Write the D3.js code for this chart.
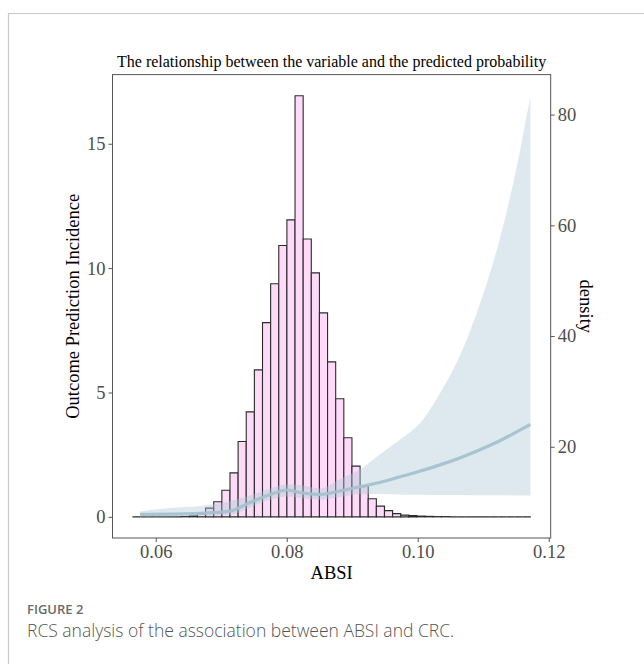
<!DOCTYPE html>
<html>
<head>
<meta charset="utf-8">
<script src="https://cdn.jsdelivr.net/npm/d3@7"></script>
<style>
  html, body { margin: 0; padding: 0; background: #fff; }
  svg { display: block; }
</style>
</head>
<body>
<svg id="chart" width="644" height="664"></svg>
<script>
// ---------------- data ----------------
const titleText = "The relationship between the variable and the predicted probability";
const xLabel = "ABSI";
const yLeftLabel = "Outcome Prediction Incidence";
const yRightLabel = "density";
const captionHead = "FIGURE 2";
const captionText = "RCS analysis of the association between ABSI and CRC.";

const xTicks = [0.06, 0.08, 0.10, 0.12];
const yLeftTicks = [0, 5, 10, 15];
const yRightTicks = [20, 40, 60, 80];

// histogram: 49 bins starting at binStart with width binWidth (ABSI units)
const binStart = 0.05644;
const binWidth = 0.0012414;
const binHeights = [
  0, 0, 0, 0, 0, 0, 0.01, 0.04, 0.12, 0.35,
  0.61, 1.07, 1.77, 3.03, 4.22, 5.91, 7.81, 9.37, 10.91, 11.94,
  16.93, 11.17, 9.81, 8.20, 6.23, 4.75, 3.18, 2.04, 1.22, 0.73,
  0.43, 0.25, 0.13, 0.07, 0.05, 0.03, 0.02, 0.01, 0.01, 0,
  0, 0, 0, 0, 0, 0, 0, 0, 0
];

// RCS curve: ABSI, estimate, lower CI, upper CI
const curveX     = [0.0576, 0.0622, 0.0668, 0.0713, 0.0744, 0.0775, 0.0800, 0.0820, 0.0851, 0.0881, 0.0912, 0.0942, 0.0973, 0.1004, 0.1034, 0.1065, 0.1095, 0.1126, 0.1149, 0.1172];
const curveEst   = [0.10, 0.11, 0.14, 0.23, 0.58, 0.90, 1.08, 0.98, 0.90, 1.04, 1.21, 1.38, 1.61, 1.84, 2.09, 2.38, 2.70, 3.07, 3.39, 3.72];
const curveLower = [0.01, 0.02, 0.04, 0.08, 0.38, 0.70, 0.82, 0.76, 0.70, 0.80, 0.92, 0.92, 0.90, 0.89, 0.88, 0.88, 0.87, 0.87, 0.86, 0.86];
const curveUpper = [0.22, 0.36, 0.44, 0.63, 0.86, 1.14, 1.30, 1.28, 1.14, 1.51, 1.91, 2.51, 3.11, 3.78, 4.97, 6.52, 8.57, 11.24, 13.8, 16.9];

// secondary (density) axis relation: density = densA + densB * leftValue
const densA = 7.34, densB = 4.493;

// ---------------- layout ----------------
const svg = d3.select("#chart");
const P = { left: 112.5, right: 550.7, top: 74.6, bottom: 538 };
const xDomain = [0.0534, 0.1203];
const yDomain = [-0.85, 17.78];

const x = d3.scaleLinear().domain(xDomain).range([P.left, P.right]);
const y = d3.scaleLinear().domain(yDomain).range([P.bottom, P.top]);
const yR = d3.scaleLinear()
  .domain([densA + densB * yDomain[0], densA + densB * yDomain[1]])
  .range([P.bottom, P.top]);

const serif = "'Liberation Serif', 'Times New Roman', serif";
const sans = "'Open Sans', 'Noto Sans', sans-serif";
const tickColor = "#4d4d4d";

// outer frame (top + left lines)
svg.append("path").attr("d", "M8.5,664 V13.5 H644")
  .attr("fill", "none").attr("stroke", "#c8c8c8").attr("stroke-width", 1.2);

// title
svg.append("text").attr("x", (P.left + P.right) / 2).attr("y", 66.5)
  .attr("text-anchor", "middle").attr("font-family", serif).attr("font-size", 16)
  .attr("fill", "#000").text(titleText);

// histogram bars
const bins = binHeights.map((h, i) => ({ x0: binStart + i * binWidth, x1: binStart + (i + 1) * binWidth, h }));
svg.append("g").selectAll("path").data(bins).join("path")
  .attr("d", d => `M${x(d.x0)},${y(0)} V${y(d.h)} H${x(d.x1)} V${y(0)} Z`)
  .attr("fill", "#fddaf8").attr("stroke", "#2b2b2b").attr("stroke-width", 1.1);

// ribbon
const curve = curveX.map((cx, i) => ({ x: cx, est: curveEst[i], lo: curveLower[i], hi: curveUpper[i] }));
svg.append("path").datum(curve)
  .attr("d", d3.area().x(d => x(d.x)).y0(d => y(d.lo)).y1(d => y(d.hi)).curve(d3.curveMonotoneX))
  .attr("fill", "#a9c8d4").attr("fill-opacity", 0.4);

// line
svg.append("path").datum(curve)
  .attr("d", d3.line().x(d => x(d.x)).y(d => y(d.est)).curve(d3.curveMonotoneX))
  .attr("fill", "none").attr("stroke", "#a3c2ce").attr("stroke-width", 3.2).attr("stroke-opacity", 0.95);

// panel border
svg.append("rect").attr("x", P.left).attr("y", P.top)
  .attr("width", P.right - P.left).attr("height", P.bottom - P.top)
  .attr("fill", "none").attr("stroke", "#555").attr("stroke-width", 1);

// axes
function styleAxis(g) {
  g.select(".domain").remove();
  g.selectAll(".tick line").attr("stroke", "#555");
  g.selectAll(".tick text").attr("font-family", serif).attr("font-size", 18.5).attr("fill", tickColor);
}
svg.append("g").attr("transform", `translate(0,${P.bottom})`)
  .call(d3.axisBottom(x).tickValues(xTicks).tickFormat(d3.format(".2f")).tickSizeInner(4).tickSizeOuter(0).tickPadding(3))
  .call(styleAxis);
svg.append("g").attr("transform", `translate(${P.left},0)`)
  .call(d3.axisLeft(y).tickValues(yLeftTicks).tickFormat(d3.format("d")).tickSizeInner(4).tickSizeOuter(0).tickPadding(3))
  .call(styleAxis);
svg.append("g").attr("transform", `translate(${P.right},0)`)
  .call(d3.axisRight(yR).tickValues(yRightTicks).tickFormat(d3.format("d")).tickSizeInner(4).tickSizeOuter(0).tickPadding(3))
  .call(styleAxis);

// axis titles
svg.append("text").attr("x", (P.left + P.right) / 2).attr("y", 579)
  .attr("text-anchor", "middle").attr("font-family", serif).attr("font-size", 18.5).text(xLabel);
svg.append("text").attr("transform", `translate(79,${(P.top + P.bottom) / 2}) rotate(-90)`)
  .attr("text-anchor", "middle").attr("font-family", serif).attr("font-size", 18.5).text(yLeftLabel);
svg.append("text").attr("transform", `translate(580,${(P.top + P.bottom) / 2}) rotate(90)`)
  .attr("text-anchor", "middle").attr("font-family", serif).attr("font-size", 18.5).text(yRightLabel);

// caption
svg.append("text").attr("x", 27).attr("y", 614)
  .attr("font-family", sans).attr("font-size", 13).attr("font-weight", 600)
  .attr("fill", "#6a6a6a").text(captionHead);
svg.append("text").attr("x", 27).attr("y", 637)
  .attr("font-family", sans).attr("font-size", 17.5).attr("font-weight", 300)
  .attr("fill", "#555").text(captionText);
</script>
</body>
</html>
